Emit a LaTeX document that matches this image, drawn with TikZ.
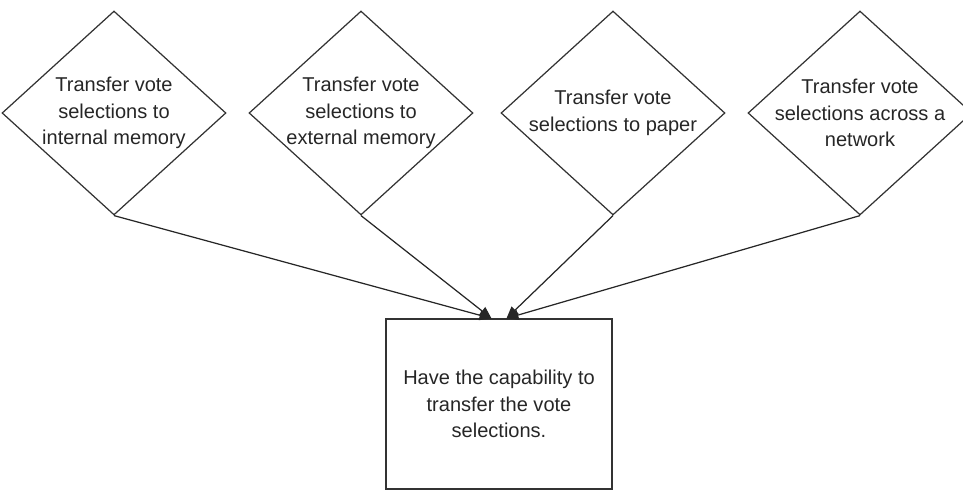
\documentclass[tikz,border=0pt]{standalone}
\usepackage{fontspec}
\setmainfont{Liberation Sans}
\usetikzlibrary{positioning}
\usetikzlibrary{shapes.geometric}
\usetikzlibrary{arrows.meta}

\begin{document}
\begin{tikzpicture}[x=0.02cm, y=-0.02cm
  , choice/.style={ diamond, draw=black!80, line width=0.7pt
                  , minimum width = 4.48cm
                  , minimum height = 4.08cm
                  , inner sep = 0pt
                  }
  , choicetext/.style={ align=center, text=black!85
                      , font=\fontsize{11.4pt}{15.2pt}\selectfont
                      }
  , goal/.style={ draw=black!80, line width=0.7pt
                , minimum width = 4.52cm
                , minimum height = 3.4cm
                , align=center, text=black!85
                , font=\fontsize{11.4pt}{15.2pt}\selectfont
                }
  , >={Triangle[length=0.24cm, width=0.2cm]}]

  \useasboundingbox (0,0) rectangle (963,490);

  \node [choice] (internal) at (114,113) {};
  \node [choicetext] (internal-text) at (internal)
    {Transfer vote\\ selections to\\ internal memory};

  \node [choice] (external) at (361,113) {};
  \node [choicetext] (external-text) at (external)
    {Transfer vote\\ selections to\\ external memory};

  \node [choice] (paper) at (613,113) {};
  \node [choicetext] (paper-text) at (paper)
    {Transfer vote\\ selections to paper};

  \node [choice] (network) at (860,113) {};
  \node [choicetext] (network-text) at (network)
    {Transfer vote\\ selections across a\\ network};

  \node [goal] (capability) at (499,404)
    {Have the capability to\\ transfer the vote\\ selections.};

  \coordinate (in-left) at ([xshift=-0.15cm]capability.north);
  \coordinate (in-right) at ([xshift=0.15cm]capability.north);

  \draw [->, black!85, line width=0.7pt] (internal.south) -- (in-left);
  \draw [->, black!85, line width=0.7pt] (external.south) -- (in-left);
  \draw [->, black!85, line width=0.7pt] (paper.south) -- (in-right);
  \draw [->, black!85, line width=0.7pt] (network.south) -- (in-right);

\end{tikzpicture}
\end{document}
